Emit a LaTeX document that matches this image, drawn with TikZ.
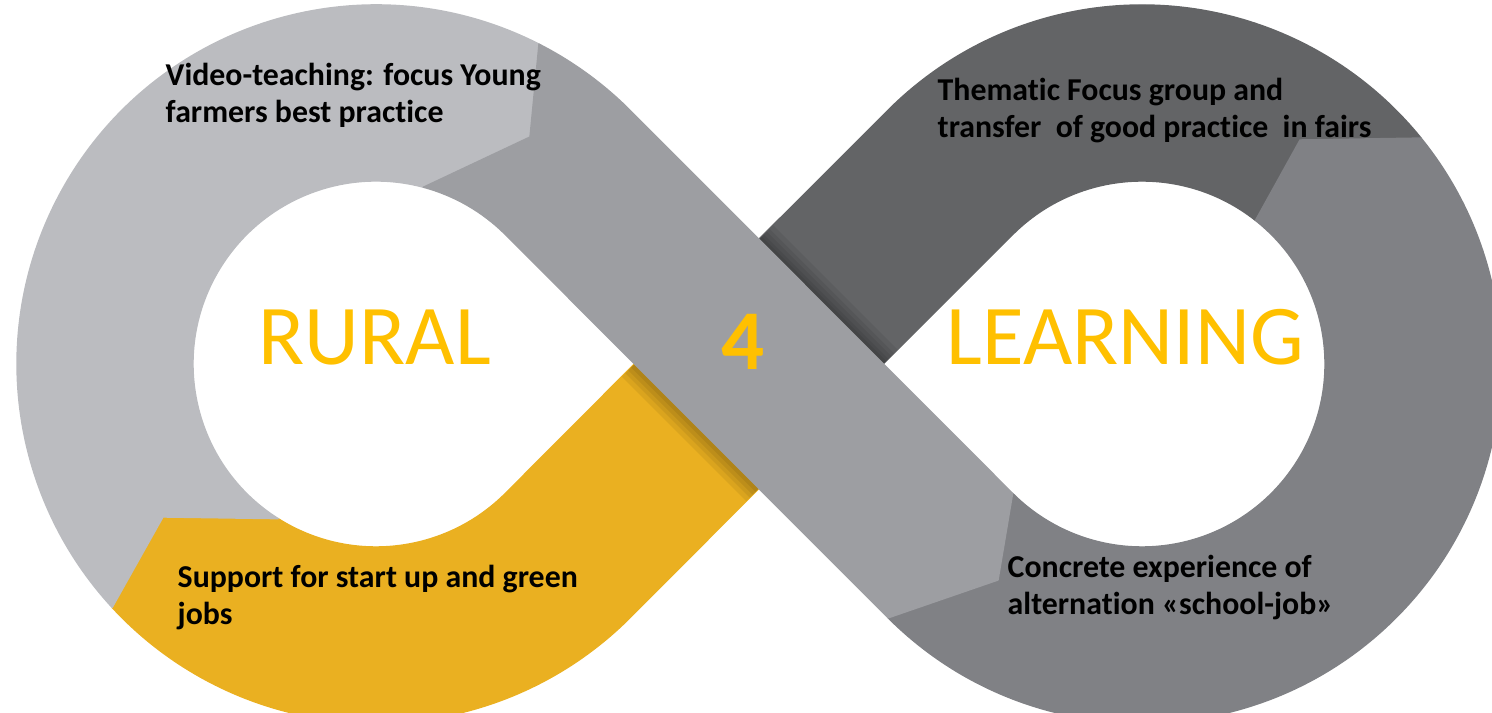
\documentclass[tikz,border=0pt]{standalone}
\usepackage{fontspec}
\setmainfont{Carlito}[Ligatures=NoCommon]
\usepackage{xcolor}
\definecolor{loopLightGray}{RGB}{187, 188, 192}
\definecolor{loopMidGray}{RGB}{157, 158, 162}
\definecolor{loopSteelGray}{RGB}{128, 129, 133}
\definecolor{loopDarkGray}{RGB}{99, 100, 102}
\definecolor{loopAmber}{RGB}{234, 176, 33}
\definecolor{wordGold}{RGB}{255, 192, 0}

\begin{document}
\begin{tikzpicture}
    [
		x=0.01cm, y=0.01cm,
		loopseg/.style={
			fill=#1, draw=#1, line width=0.4pt, line join=round
		},
		shadowstrip/.style={fill=black, opacity=0.065},
		stagetext/.style={
			anchor=base west, align=left, inner sep=0,
			font=\fontsize{9.05}{10.8}\selectfont\bfseries
		},
		bigword/.style={
			anchor=base west, inner sep=0, text=wordGold,
			font=\fontsize{24.2}{28}\selectfont
		}
	]

\useasboundingbox (0,0) rectangle (1492,713);
\clip (0,0) rectangle (1492,713);

% Centres and seams
\coordinate (L) at (376,349);
\coordinate (R) at (1142,349);
\coordinate (X) at (759,349);
\coordinate (kinkTL) at (530,576);
\coordinate (kinkBL) at (163,196);
\coordinate (kinkBR) at (998,133);
\coordinate (kinkTR) at (1300,573);
\coordinate (crossA) at (696.6,411.4);
\coordinate (crossB) at (821.1,286.9);

% Segments
\path [loopseg=loopAmber]
	(crossA) -- ([shift={(315:183)}]L)
	arc [start angle=315, end angle=237.7, radius=183]
	-- (kinkBL) -- ([shift={(222.7:359)}]L)
	arc [start angle=222.7, end angle=315, radius=359]
	-- (crossB) -- cycle;

\path [loopseg=loopDarkGray]
	([shift={(39:359)}]R)
	arc [start angle=39, end angle=135, radius=359]
	-- (crossA) -- (crossB) -- ([shift={(135:183)}]R)
	arc [start angle=135, end angle=51.7, radius=183]
	-- (kinkTR) -- cycle;

\path [loopseg=loopLightGray]
	([shift={(63:359)}]L)
	arc [start angle=63, end angle=222.7, radius=359]
	-- (kinkBL) -- ([shift={(237.7:183)}]L)
	arc [start angle=237.7, end angle=75, radius=183]
	-- (kinkTL) -- cycle;

\path [loopseg=loopSteelGray]
	([shift={(225:359)}]R)
	arc [start angle=225, end angle=399, radius=359]
	-- (kinkTR) -- ([shift={(51.7:183)}]R)
	arc [start angle=51.7, end angle=-135, radius=183]
	-- (kinkBR) -- cycle;

% Shadows under the crossing
\begin{scope}[shift={(X)}, rotate=-45]
	\fill [shadowstrip] (-88,88) rectangle (88,108);
	\fill [shadowstrip] (-88,88) rectangle (88,103);
	\fill [shadowstrip] (-88,88) rectangle (88,99);
	\fill [shadowstrip] (-88,88) rectangle (88,95);
	\fill [shadowstrip] (-88,88) rectangle (88,92);
	\fill [shadowstrip] (-88,-88) rectangle (88,-106);
	\fill [shadowstrip] (-88,-88) rectangle (88,-101);
	\fill [shadowstrip] (-88,-88) rectangle (88,-97);
	\fill [shadowstrip] (-88,-88) rectangle (88,-93);
\end{scope}

\path [loopseg=loopMidGray]
	([shift={(63:359)}]L)
	arc [start angle=63, end angle=45, radius=359]
	-- ([shift={(225:183)}]R) -- (kinkBR) -- ([shift={(225:359)}]R)
	-- ([shift={(45:183)}]L)
	arc [start angle=45, end angle=75, radius=183]
	-- (kinkTL) -- cycle;

% Labels (base = last line)
\node (video) [stagetext] at (165,590)
	{Video-teaching: focus Young\\farmers best practice};
\node (thematic) [stagetext] at (937,575)
	{Thematic Focus group and\\transfer~ of good practice~ in fairs};
\node (support) [stagetext] at (177,88)
	{Support for start up and green\\jobs};
\node (concrete) [stagetext] at (1007,98)
	{Concrete experience of\\alternation «school-job»};

\node (rural) [bigword] at (258,348) {RURAL};
\node (four) [bigword, anchor=base, font=\fontsize{24.2}{28}\selectfont\bfseries]
	at (743,343) {4};
\node (learning) [bigword] at (946,348) {LEARNING};

\end{tikzpicture}
\end{document}
